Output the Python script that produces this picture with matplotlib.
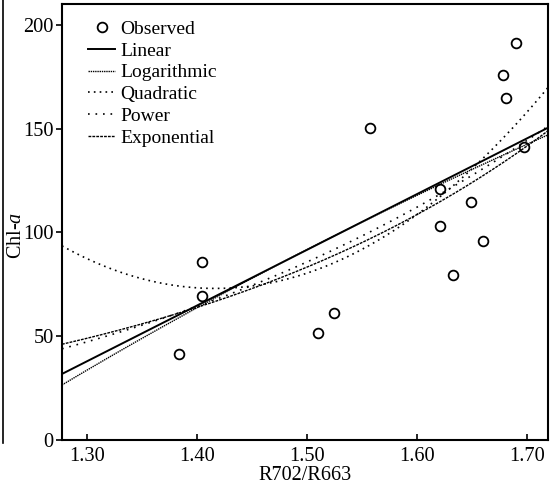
import numpy as np
import matplotlib
matplotlib.use('Agg')
import matplotlib.pyplot as plt
from matplotlib.lines import Line2D

plt.rcParams['font.family'] = ['Liberation Serif', 'DejaVu Serif']
plt.rcParams['mathtext.fontset'] = 'custom'
plt.rcParams['mathtext.rm'] = 'Liberation Serif'
plt.rcParams['mathtext.it'] = 'Liberation Serif:italic'

# observed points
ratio = [1.383, 1.4045, 1.4045, 1.510, 1.524, 1.557, 1.621, 1.621,
         1.649, 1.633, 1.660, 1.678, 1.681, 1.690, 1.697]
chla = [41.4, 85.8, 69.4, 51.6, 61.2, 150.4, 121.0, 103.0,
        114.7, 79.5, 95.9, 175.9, 164.8, 191.3, 141.2]

# fitted model coefficients
lin_coef = [268.3, -310.8]          # y = a*x + b
log_coef = [405.3, -72.6]           # y = a*ln(x) + b
quad_coef = [1056.0, 1.4163, 73.0]  # y = a*(x-h)^2 + k
pow_coef = [15.9, 4.157]            # y = a*x^b
exp_coef = [1.56, 2.652]            # y = a*exp(b*x)

xlim = (1.277, 1.719)
xs = np.linspace(xlim[0], xlim[1], 200)

fig = plt.figure(figsize=(5.58, 4.84), dpi=100)
ax = fig.add_axes([62/558, 1-440/484, 486/558, 436/484])

ax.plot(ratio, chla, 'o', mfc='none', mec='k', ms=7, mew=1.3, label='Observed')
ax.plot(xs, lin_coef[0]*xs + lin_coef[1], 'k-', lw=1.4, label='Linear')
ax.plot(xs, log_coef[0]*np.log(xs) + log_coef[1], color='k', lw=1.0,
        ls=(0, (1, 0.6)), label='Logarithmic')
ax.plot(xs, quad_coef[0]*(xs-quad_coef[1])**2 + quad_coef[2], color='k', lw=1.2,
        ls=(0, (1, 2.5)), label='Quadratic')
ax.plot(xs, pow_coef[0]*xs**pow_coef[1], color='k', lw=1.2,
        ls=(0, (1, 3.5)), label='Power')
ax.plot(xs, exp_coef[0]*np.exp(exp_coef[1]*xs), color='k', lw=1.0,
        ls=(0, (2, 0.8)), label='Exponential')

ax.set_xlim(*xlim)
ax.set_ylim(0, 210)
ax.set_xticks([1.3, 1.4, 1.5, 1.6, 1.7])
ax.set_xticklabels(['1.30', '1.40', '1.50', '1.60', '1.70'])
ax.set_yticks([0, 50, 100, 150, 200])
ax.tick_params(axis='x', direction='in', length=4, width=1.2, labelsize=14.7, pad=5)
ax.tick_params(axis='y', direction='out', length=4, width=1.2, labelsize=14.7, pad=2)
for s in ax.spines.values():
    s.set_linewidth(1.5)

ax.set_xlabel('R702/R663', fontsize=14.5, labelpad=0)
ax.set_ylabel('Chl-$a$', fontsize=14.5)
ax.yaxis.set_label_coords(-0.074, 0.47)

ax.legend(loc='upper left', frameon=False, fontsize=14, numpoints=1,
          handlelength=1.4, handletextpad=0.25, labelspacing=0.22,
          borderaxespad=0.0, borderpad=0.0, bbox_to_anchor=(26/486, 1-16/436))

# edge of the neighbouring panel
fig.add_artist(Line2D([3/558, 3/558], [1-443/484, 1.0], color='k', lw=1.2))

fig.savefig('out.png', dpi=100)
